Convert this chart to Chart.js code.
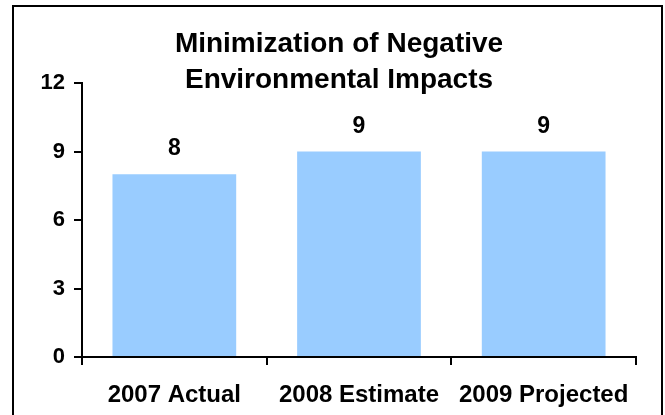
<!DOCTYPE html>
<html>
<head>
<meta charset="utf-8">
<script src="https://cdn.jsdelivr.net/npm/chart.js@4/dist/chart.umd.min.js"></script>
<style>
  html, body { margin: 0; padding: 0; background: #ffffff; }
  #wrap { position: relative; width: 665px; height: 415px; }
</style>
</head>
<body>
<div id="wrap"><canvas id="c" width="665" height="415"></canvas></div>
<script>
const categories = ["2007 Actual", "2008 Estimate", "2009 Projected"];
const values = [8, 9, 9];
const yTicks = [0, 3, 6, 9, 12];
const titleLines = ["Minimization of Negative", "Environmental Impacts"];

const FONT = "'Liberation Sans', Arial, sans-serif";

const frame = {
  id: 'frame',
  beforeDraw(chart) {
    const ctx = chart.ctx;
    ctx.save();
    ctx.fillStyle = '#ffffff';
    ctx.fillRect(0, 0, chart.width, chart.height);
    ctx.strokeStyle = '#000000';
    ctx.lineWidth = 2;
    ctx.strokeRect(13, 6, 649, 440);
    ctx.restore();
  }
};

const titleDraw = {
  id: 'titleDraw',
  afterDraw(chart) {
    const ctx = chart.ctx;
    ctx.save();
    ctx.font = 'bold 28px ' + FONT;
    ctx.fillStyle = '#000000';
    ctx.textAlign = 'center';
    ctx.textBaseline = 'alphabetic';
    titleLines.forEach((line, i) => {
      ctx.fillText(line, 339, 52 + i * 36);
    });
    ctx.restore();
  }
};

const dataLabels = {
  id: 'dataLabels',
  afterDatasetsDraw(chart) {
    const ctx = chart.ctx;
    const meta = chart.getDatasetMeta(0);
    ctx.save();
    ctx.font = 'bold 23px ' + FONT;
    ctx.fillStyle = '#000000';
    ctx.textAlign = 'center';
    ctx.textBaseline = 'alphabetic';
    meta.data.forEach((bar, i) => {
      ctx.fillText(String(values[i]), bar.x, bar.y - 19);
    });
    ctx.restore();
  }
};

new Chart(document.getElementById('c'), {
  type: 'bar',
  data: {
    labels: categories,
    datasets: [{
      data: values,
      backgroundColor: '#99CCFF',
      borderWidth: 0,
      barPercentage: 0.67,
      categoryPercentage: 1.0
    }]
  },
  options: {
    responsive: false,
    animation: false,
    layout: { padding: { left: 0, right: 29, top: 83, bottom: 0 } },
    plugins: {
      legend: { display: false },
      tooltip: { enabled: false },
      title: { display: false }
    },
    scales: {
      x: {
        offset: true,
        grid: { offset: true, drawOnChartArea: false, drawTicks: true, tickLength: 8, color: '#000000', lineWidth: 2 },
        border: { display: true, color: '#000000', width: 2 },
        ticks: { color: '#000000', font: { family: FONT, size: 24, weight: 'bold' }, padding: 16, maxRotation: 0, autoSkip: false },
        afterFit(scale) { scale.height = 58; }
      },
      y: {
        min: 0,
        max: 12,
        afterBuildTicks(scale) { scale.ticks = yTicks.map(v => ({ value: v })); },
        grid: { drawOnChartArea: false, drawTicks: true, tickLength: 8, color: '#000000', lineWidth: 2 },
        border: { display: true, color: '#000000', width: 2 },
        ticks: { color: '#000000', font: { family: FONT, size: 22, weight: 'bold' }, padding: 9 },
        afterFit(scale) { scale.width = 82; }
      }
    }
  },
  plugins: [frame, dataLabels, titleDraw]
});
</script>
</body>
</html>
